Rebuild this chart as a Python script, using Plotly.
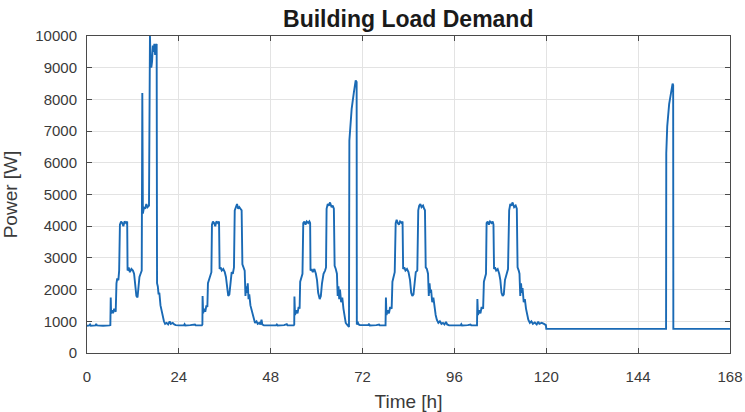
import plotly.graph_objects as go

# Building electrical load over one week, as (hour, watts) breakpoints per day.
day1 = [
    (0.0, 860), (0.6, 870), (0.8, 900), (1.0, 860), (2.2, 870), (2.4, 920), (2.6, 870),
    (4.0, 880), (4.2, 860), (5.9, 870),
    (6.1, 880), (6.2, 1750), (6.3, 1250), (6.6, 1350), (6.8, 1250), (7.1, 1400), (7.5, 1300),
    (7.7, 2200), (7.9, 2350), (8.2, 2300), (8.4, 2600),
    (8.6, 4050), (8.9, 4150), (9.2, 4100), (9.5, 4000), (9.8, 4150), (10.2, 4100), (10.5, 4150),
    (10.6, 2600), (10.9, 2700), (11.2, 2550), (11.6, 2650), (12.0, 2600), (12.3, 2500),
    (12.6, 2100), (12.9, 1800), (13.2, 1750), (13.4, 2000), (13.7, 2400), (14.0, 2500), (14.3, 2600),
    (14.45, 8200), (14.6, 4400), (14.9, 4600), (15.2, 4550), (15.5, 4700), (15.8, 4600), (16.2, 4650),
    (16.45, 10000), (16.6, 9300), (16.8, 9000), (17.0, 9200), (17.2, 9700), (17.4, 9500),
    (17.6, 9750), (17.8, 9400), (18.0, 9700), (18.2, 9750),
    (18.3, 2200), (18.5, 2100), (18.7, 1850), (18.9, 1900), (19.2, 1500), (19.5, 1300),
    (19.8, 1100), (20.1, 1000), (20.4, 920), (20.8, 950), (21.2, 900), (21.6, 1000),
    (21.9, 920), (22.4, 950), (22.8, 900), (23.2, 880), (24.0, 870),
]

day2 = [
    (25.3, 870), (25.5, 910), (25.7, 870), (27.0, 880), (28.2, 900), (28.4, 870), (30.0, 870),
    (30.15, 900), (30.2, 1800), (30.35, 1250), (30.6, 1400), (30.9, 1300), (31.2, 1500), (31.45, 1450),
    (31.6, 2200), (31.9, 2300), (32.2, 2450), (32.5, 2550),
    (32.65, 4050), (32.9, 4150), (33.2, 4100), (33.5, 4000), (33.8, 4150), (34.2, 4100), (34.5, 4150),
    (34.65, 2650), (34.9, 2700), (35.2, 2600), (35.6, 2650), (36.0, 2550), (36.3, 2400),
    (36.6, 2000), (36.9, 1800), (37.2, 1850), (37.5, 2300), (37.8, 2550), (38.1, 2500), (38.4, 2700),
    (38.6, 4500), (38.9, 4650), (39.2, 4700), (39.5, 4550), (39.8, 4600), (40.1, 4550), (40.4, 4500),
    (40.6, 2800), (40.9, 2700), (41.2, 2600), (41.4, 1800), (41.6, 2100), (41.8, 1900),
    (42.0, 2200), (42.2, 1700), (42.4, 1850), (42.7, 1500), (43.0, 1350), (43.3, 1150),
    (43.6, 1000), (43.9, 950), (44.3, 1000), (44.6, 920), (45.0, 950), (45.3, 900),
    (45.6, 1050), (45.8, 900), (46.2, 870), (48.0, 880),
]

day3 = [
    (49.4, 870), (49.6, 900), (49.8, 870), (51.5, 880), (52.2, 910), (52.4, 870), (54.0, 870),
    (54.15, 900), (54.2, 1780), (54.35, 1200), (54.7, 1350), (55.0, 1250), (55.3, 1450), (55.55, 1400),
    (55.7, 2250), (56.0, 2350), (56.3, 2500),
    (56.5, 4100), (56.8, 4150), (57.1, 4050), (57.4, 4150), (57.8, 4100), (58.1, 4150), (58.3, 4100),
    (58.4, 2600), (58.7, 2650), (59.0, 2550), (59.4, 2650), (59.8, 2500), (60.1, 2300),
    (60.4, 1900), (60.8, 1700), (61.1, 1800), (61.4, 2200), (61.8, 2500), (62.2, 2600), (62.45, 2700),
    (62.6, 4550), (62.9, 4700), (63.2, 4650), (63.5, 4750), (63.9, 4600), (64.2, 4650), (64.5, 4550),
    (64.7, 2750), (65.0, 2650), (65.3, 2500), (65.5, 1800), (65.7, 2100), (65.9, 1700),
    (66.1, 2000), (66.4, 1600), (66.7, 1750), (67.0, 1400), (67.3, 1100), (67.6, 950),
    (67.9, 900), (68.2, 850), (68.45, 820),
    (68.55, 6700), (68.8, 7300), (69.15, 7700), (69.7, 8200), (70.2, 8600), (70.45, 8550),
    (70.5, 900), (70.8, 950), (71.0, 900), (71.3, 880), (72.0, 880),
]

day4 = [
    (73.5, 880), (73.7, 920), (73.9, 870), (75.6, 880), (76.3, 900), (76.5, 870), (78.0, 870),
    (78.1, 1750), (78.25, 1200), (78.6, 1350), (78.9, 1250), (79.2, 1450), (79.6, 1400),
    (79.8, 2250), (80.1, 2400), (80.4, 2550),
    (80.65, 4100), (80.9, 4200), (81.2, 4100), (81.5, 4050), (81.8, 4150), (82.2, 4100), (82.45, 4150),
    (82.6, 2650), (82.9, 2700), (83.2, 2600), (83.6, 2650), (84.0, 2550), (84.4, 2300),
    (84.7, 1900), (85.0, 1800), (85.3, 1850), (85.6, 2200), (85.9, 2550), (86.3, 2600),
    (86.55, 4500), (86.8, 4650), (87.1, 4700), (87.4, 4600), (87.8, 4650), (88.1, 4550), (88.3, 4500),
    (88.5, 2700), (88.8, 2650), (89.1, 2500), (89.3, 1800), (89.5, 2200), (89.7, 1900),
    (89.9, 2000), (90.2, 1600), (90.5, 1750), (90.8, 1400), (91.1, 1200), (91.4, 1050),
    (91.8, 950), (92.2, 1000), (92.6, 920), (93.0, 950), (93.4, 900), (93.8, 980),
    (94.1, 900), (94.6, 870), (96.0, 880),
]

day5 = [
    (97.6, 870), (97.8, 910), (98.0, 870), (99.5, 880), (100.2, 900), (100.4, 870), (101.9, 870),
    (102.0, 1700), (102.15, 1200), (102.5, 1350), (102.8, 1250), (103.1, 1450), (103.5, 1400),
    (103.7, 2250), (104.0, 2400), (104.25, 2500),
    (104.4, 4100), (104.7, 4150), (105.0, 4050), (105.3, 4150), (105.7, 4100), (106.0, 4150), (106.2, 4050),
    (106.35, 2650), (106.6, 2700), (106.9, 2600), (107.3, 2650), (107.7, 2500), (108.0, 2300),
    (108.3, 1900), (108.6, 1800), (108.9, 1850), (109.2, 2300), (109.6, 2500), (110.0, 2650),
    (110.3, 4500), (110.6, 4700), (110.9, 4650), (111.2, 4750), (111.6, 4600), (112.0, 4650), (112.3, 4550),
    (112.5, 2700), (112.8, 2600), (113.0, 2500), (113.2, 1800), (113.4, 2200), (113.6, 1900),
    (113.8, 2050), (114.1, 1600), (114.4, 1700), (114.7, 1400), (115.0, 1200), (115.3, 1050),
    (115.7, 950), (116.1, 1000), (116.5, 920), (117.0, 960), (117.5, 900), (117.9, 990),
    (118.2, 920), (118.8, 950), (119.4, 920), (119.9, 880),
]

weekend = [
    (120.0, 760), (151.3, 760), (151.35, 6300), (151.6, 7150), (152.1, 7850),
    (152.6, 8250), (153.0, 8500), (153.15, 8450), (153.2, 760), (168.0, 760),
]

x_ticks = [0, 24, 48, 72, 96, 120, 144, 168]
y_ticks = list(range(0, 10001, 1000))

points = day1 + day2 + day3 + day4 + day5 + weekend
hours = [p[0] for p in points]
watts = [p[1] for p in points]

fig = go.Figure()
fig.add_trace(go.Scatter(
    x=hours, y=watts, mode="lines",
    line=dict(color="#1a6ab5", width=1.9),
    showlegend=False,
))

label_font = dict(family="Liberation Sans", size=19, color="#3a3a3a")
axis_common = dict(
    showline=True, linecolor="#4a4a4a", linewidth=1, mirror="ticks",
    ticks="inside", ticklen=5, tickcolor="#4a4a4a",
    showgrid=True, gridcolor="#e3e3e3", gridwidth=1,
    zeroline=False, automargin=False,
    tickfont=dict(family="Liberation Sans", size=15, color="#3a3a3a"),
)

fig.update_xaxes(
    range=[0, 168], tickvals=x_ticks, ticktext=[str(v) for v in x_ticks],
    title=dict(text="Time [h]", font=label_font, standoff=10),
    ticklabelstandoff=10,
    **axis_common,
)
fig.update_yaxes(
    range=[0, 10000], tickvals=y_ticks, ticktext=[str(v) for v in y_ticks],
    title=dict(text="Power [W]", font=label_font, standoff=16),
    ticklabelstandoff=6,
    **axis_common,
)

fig.update_layout(
    width=745, height=412,
    margin=dict(l=87, r=15, t=36, b=59),
    paper_bgcolor="white", plot_bgcolor="white",
    title=dict(
        text="<b>Building Load Demand</b>",
        font=dict(family="Liberation Sans", size=23, color="#1a1a1a"),
        x=0.548, xanchor="center", y=0.955, yanchor="middle",
    ),
)

fig.write_html("out.html")
